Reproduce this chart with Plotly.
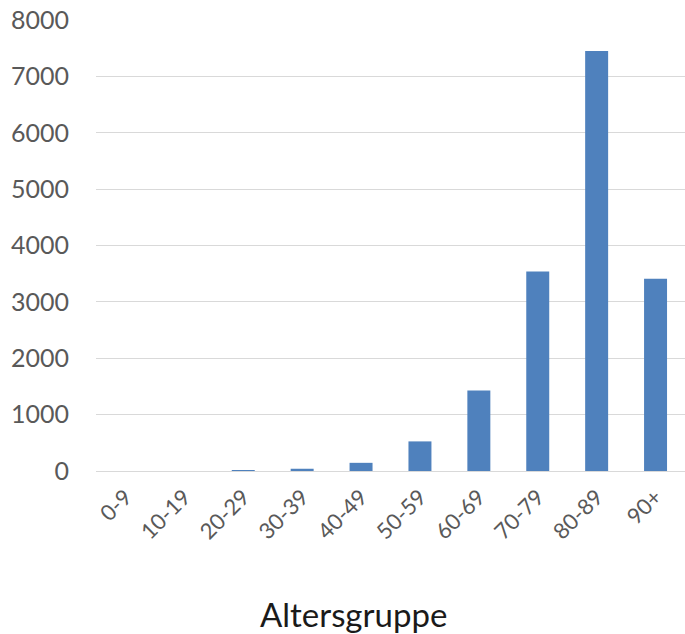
import plotly.graph_objects as go

# Age groups and counts per group
age_groups = ["0-9", "10-19", "20-29", "30-39", "40-49",
              "50-59", "60-69", "70-79", "80-89", "90+"]
counts = [0, 0, 12, 40, 145, 525, 1430, 3540, 7450, 3410]

y_ticks = [0, 1000, 2000, 3000, 4000, 5000, 6000, 7000, 8000]

BAR_BLUE = "#4F81BD"
GRID = "#D9D9D9"
TICK_GREY = "#595959"
FONT = "Lato, 'Open Sans', sans-serif"

fig = go.Figure(
    go.Bar(
        x=age_groups,
        y=counts,
        marker=dict(color=BAR_BLUE, line=dict(width=0)),
        hoverinfo="x+y",
    )
)

fig.update_layout(
    width=685,
    height=634,
    margin=dict(l=96, r=0, t=20, b=163),
    plot_bgcolor="white",
    paper_bgcolor="white",
    bargap=0.61,
    showlegend=False,
    font=dict(family=FONT, color=TICK_GREY),
    xaxis=dict(
        type="category",
        tickangle=-45,
        tickfont=dict(size=22, color=TICK_GREY),
        showgrid=False,
        showline=False,
        ticks="",
        ticklabelstandoff=8,
    ),
    yaxis=dict(
        range=[0, 8000],
        tickvals=y_ticks,
        ticktext=[str(v) for v in y_ticks],
        tickfont=dict(size=25, color=TICK_GREY),
        showgrid=True,
        gridcolor=GRID,
        gridwidth=1.3,
        zeroline=True,
        zerolinecolor=GRID,
        zerolinewidth=1.3,
        showline=False,
        ticks="",
        ticklabelstandoff=26,
    ),
    annotations=[
        dict(
            text="Altersgruppe",
            xref="paper",
            yref="paper",
            x=(353 - 96) / (685 - 96),
            y=-(614 - 471) / (471 - 20),
            xanchor="center",
            yanchor="middle",
            showarrow=False,
            font=dict(size=33, color="#1A1A1A", family=FONT),
        )
    ],
)

fig.write_html("out.html")
